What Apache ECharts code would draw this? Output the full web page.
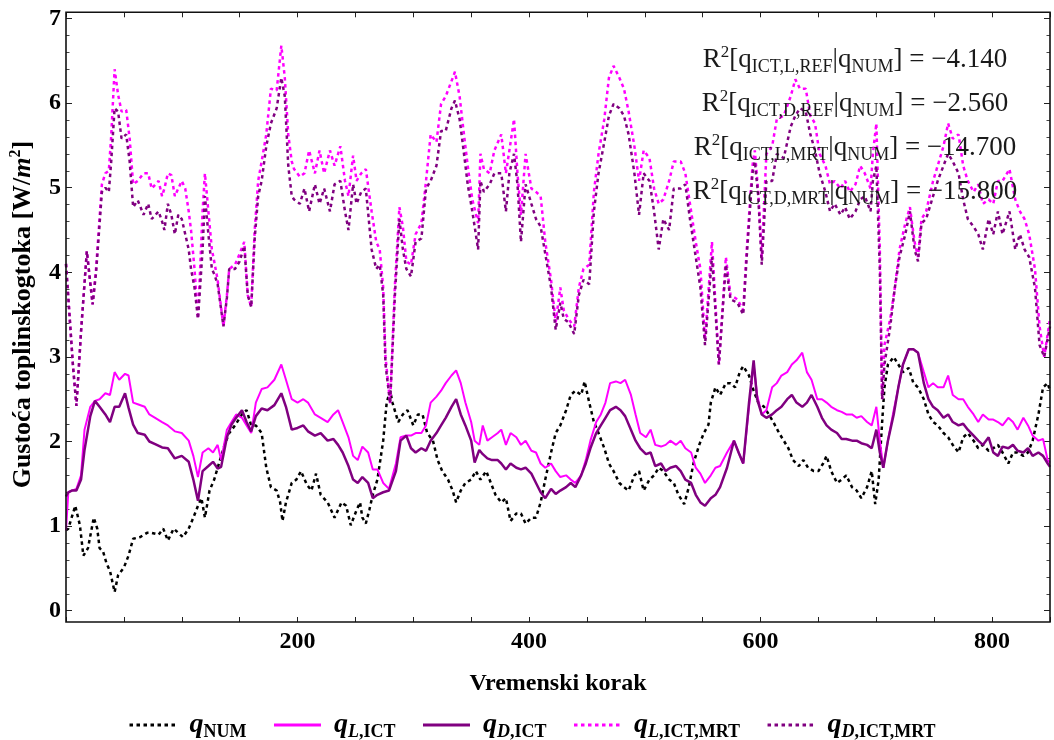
<!DOCTYPE html>
<html><head><meta charset="utf-8">
<script src="https://cdn.jsdelivr.net/npm/echarts@6/dist/echarts.min.js"></script>
<style>html,body{margin:0;padding:0;background:#fff}#c{width:1054px;height:740px}</style>
</head><body><div id="c"></div>
<script>
const xTickLabels = [200, 400, 600, 800];
const yTickLabels = [0, 1, 2, 3, 4, 5, 6, 7];
const seriesNames = ['qNUM', 'qLICT', 'qDICT', 'qLMRT', 'qDMRT'];
const legendRich = {
  qNUM: '{q|q}{s|NUM}',
  qLICT: '{q|q}{si|L}{s|,ICT}',
  qDICT: '{q|q}{si|D}{s|,ICT}',
  qLMRT: '{q|q}{si|L}{s|,ICT,MRT}',
  qDMRT: '{q|q}{si|D}{s|,ICT,MRT}'
};
const r2Subs = ['ICT,L,REF', 'ICT,D,REF', 'ICT,L,MRT', 'ICT,D,MRT'];
const r2Values = ['\u22124.140', '\u22122.560', '\u221214.700', '\u221215.800'];

const qNUM = [[0,0.95],[2,0.97],[8,1.24],[12,1.01],[15,0.65],[19,0.74],[24,1.1],[27,0.97],[29,0.74],[32,0.7],[35,0.56],[38,0.47],[42,0.22],[45,0.42],[50,0.51],[54,0.65],[58,0.85],[64,0.87],[70,0.92],[74,0.92],[80,0.9],[84,0.97],[88,0.83],[93,0.97],[97,0.92],[101,0.87],[106,0.97],[110,1.1],[114,1.24],[117,1.33],[120,1.1],[124,1.42],[128,1.55],[133,1.78],[137,1.96],[141,2.1],[146,2.19],[152,2.32],[156,2.37],[160,2.19],[164,2.19],[169,2.1],[173,1.69],[177,1.46],[182,1.42],[185,1.28],[187,1.06],[190,1.28],[195,1.51],[199,1.55],[203,1.65],[208,1.49],[212,1.42],[216,1.62],[220,1.37],[226,1.28],[232,1.1],[238,1.28],[242,1.24],[246,1.01],[251,1.19],[254,1.28],[256,1.1],[259,1.03],[262,1.19],[265,1.37],[269,1.55],[274,2.01],[277,2.46],[280,2.6],[282,2.46],[287,2.23],[291,2.32],[295,2.37],[300,2.19],[304,2.32],[308,2.32],[312,2.1],[317,2.01],[321,1.78],[325,1.65],[330,1.55],[334,1.42],[337,1.28],[341,1.42],[345,1.51],[350,1.55],[354,1.65],[358,1.55],[363,1.65],[367,1.51],[371,1.37],[376,1.28],[380,1.33],[384,1.06],[389,1.15],[393,1.15],[397,1.03],[402,1.1],[406,1.1],[410,1.28],[414,1.55],[419,1.87],[423,2.1],[427,2.19],[432,2.37],[436,2.55],[440,2.6],[445,2.55],[448,2.71],[452,2.46],[456,2.23],[460,2.1],[465,1.92],[469,1.74],[473,1.65],[478,1.51],[482,1.46],[486,1.42],[491,1.6],[495,1.65],[499,1.42],[504,1.55],[508,1.6],[512,1.69],[516,1.65],[521,1.55],[525,1.51],[529,1.37],[534,1.26],[538,1.46],[542,1.74],[547,1.96],[551,2.1],[555,2.2],[557,2.46],[561,2.64],[565,2.55],[570,2.69],[574,2.69],[578,2.64],[582,2.82],[585,2.89],[590,2.78],[594,2.6],[598,2.46],[603,2.41],[607,2.32],[611,2.23],[616,2.1],[620,2.01],[624,1.92],[628,1.78],[633,1.71],[637,1.78],[641,1.69],[646,1.65],[650,1.65],[654,1.74],[657,1.83],[661,1.65],[666,1.51],[670,1.55],[674,1.6],[679,1.46],[683,1.42],[687,1.33],[692,1.46],[696,1.65],[699,1.26],[702,1.55],[705,2.23],[707,2.64],[710,2.91],[715,3.0],[719,2.91],[723,2.82],[728,2.87],[732,2.69],[736,2.64],[741,2.5],[745,2.32],[749,2.23],[753,2.19],[758,2.1],[762,2.05],[766,1.96],[771,1.87],[775,2.05],[779,2.1],[784,2.01],[788,1.92],[792,1.96],[797,1.89],[801,1.92],[805,1.96],[809,1.87],[814,1.74],[818,1.87],[822,1.87],[827,1.83],[831,1.87],[835,2.01],[840,2.32],[844,2.64],[848,2.69],[850,2.6]];

const qLICT = [[0,0.95],[2,1.4],[5,1.42],[9,1.44],[13,1.6],[16,2.14],[21,2.41],[25,2.48],[29,2.5],[34,2.57],[38,2.55],[42,2.82],[46,2.73],[51,2.8],[54,2.78],[58,2.46],[62,2.44],[68,2.41],[72,2.32],[77,2.28],[83,2.23],[88,2.19],[94,2.12],[100,2.1],[106,2.01],[110,1.83],[114,1.58],[118,1.87],[123,1.92],[127,1.87],[131,1.96],[134,1.78],[139,2.14],[143,2.23],[147,2.32],[152,2.28],[156,2.19],[160,2.1],[164,2.46],[169,2.62],[174,2.64],[180,2.73],[186,2.91],[190,2.73],[195,2.5],[200,2.46],[205,2.5],[209,2.46],[215,2.32],[220,2.28],[226,2.23],[231,2.32],[235,2.37],[239,2.23],[244,2.05],[248,1.83],[252,1.78],[256,1.94],[261,1.87],[265,1.67],[269,1.67],[274,1.51],[279,1.44],[285,1.74],[289,2.05],[294,2.07],[298,2.07],[302,2.1],[307,2.1],[311,2.19],[315,2.46],[320,2.53],[324,2.6],[328,2.69],[333,2.78],[337,2.84],[341,2.69],[345,2.46],[350,2.23],[353,2.01],[357,1.96],[360,2.19],[364,2.01],[368,2.05],[373,2.1],[376,2.14],[380,1.96],[384,2.1],[389,2.05],[393,1.96],[397,2.01],[402,1.89],[406,1.87],[410,1.74],[414,1.69],[419,1.74],[423,1.65],[427,1.58],[432,1.6],[436,1.55],[440,1.51],[445,1.6],[449,1.78],[453,2.01],[458,2.23],[462,2.32],[466,2.46],[470,2.69],[475,2.71],[479,2.69],[483,2.73],[488,2.55],[492,2.32],[496,2.1],[501,2.05],[505,2.14],[509,1.96],[514,1.94],[518,1.96],[522,2.01],[527,1.96],[531,2.01],[535,1.92],[540,1.87],[544,1.69],[548,1.62],[552,1.51],[557,1.6],[561,1.69],[565,1.71],[571,1.87],[577,2.01],[581,1.87],[585,1.74],[590,2.41],[594,2.91],[597,2.55],[601,2.32],[605,2.37],[610,2.64],[614,2.69],[618,2.78],[623,2.82],[627,2.91],[631,2.96],[636,3.05],[640,2.82],[644,2.73],[649,2.5],[653,2.5],[657,2.46],[661,2.41],[666,2.37],[670,2.35],[674,2.32],[679,2.32],[683,2.28],[687,2.3],[692,2.23],[696,2.19],[700,2.41],[703,2.01],[706,1.69],[710,2.01],[715,2.37],[719,2.64],[723,2.91],[728,3.09],[732,3.09],[736,3.05],[741,2.82],[745,2.64],[749,2.69],[753,2.64],[758,2.64],[762,2.78],[766,2.55],[771,2.5],[775,2.5],[779,2.41],[784,2.32],[788,2.23],[792,2.32],[797,2.26],[801,2.26],[805,2.23],[809,2.19],[814,2.28],[818,2.23],[822,2.14],[827,2.28],[831,2.19],[835,2.07],[840,2.01],[844,2.03],[848,1.78],[850,1.75]];

const qDICT = [[0,1.35],[2,1.4],[5,1.42],[9,1.42],[13,1.55],[16,1.9],[21,2.3],[25,2.48],[29,2.41],[34,2.32],[38,2.23],[42,2.41],[46,2.41],[51,2.57],[54,2.4],[58,2.2],[62,2.1],[68,2.08],[72,2.0],[77,1.97],[83,1.93],[88,1.92],[94,1.8],[100,1.83],[106,1.76],[110,1.55],[114,1.3],[118,1.65],[123,1.71],[127,1.76],[131,1.68],[134,1.7],[139,2.05],[143,2.2],[147,2.28],[152,2.37],[156,2.23],[160,2.12],[164,2.3],[169,2.39],[174,2.37],[180,2.43],[186,2.57],[190,2.41],[195,2.14],[200,2.16],[205,2.19],[209,2.12],[215,2.07],[220,2.1],[226,2.01],[231,2.03],[235,1.96],[239,1.87],[244,1.71],[248,1.55],[252,1.51],[256,1.58],[261,1.51],[265,1.33],[269,1.37],[274,1.4],[279,1.42],[285,1.65],[289,2.01],[294,2.07],[298,1.92],[302,1.87],[307,1.92],[311,1.89],[315,2.01],[320,2.1],[324,2.19],[328,2.28],[333,2.41],[337,2.5],[341,2.32],[345,2.19],[350,2.01],[353,1.75],[357,1.9],[360,1.85],[364,1.8],[368,1.78],[373,1.78],[376,1.74],[380,1.67],[384,1.74],[389,1.69],[393,1.67],[397,1.69],[402,1.62],[406,1.51],[410,1.4],[414,1.33],[419,1.44],[423,1.38],[427,1.42],[432,1.46],[436,1.51],[440,1.46],[445,1.6],[449,1.74],[453,1.92],[458,2.1],[462,2.19],[466,2.28],[470,2.37],[475,2.41],[479,2.37],[483,2.3],[488,2.14],[492,2.01],[496,1.92],[501,1.85],[505,1.87],[509,1.71],[514,1.74],[518,1.65],[522,1.69],[527,1.71],[531,1.65],[535,1.55],[540,1.51],[544,1.37],[548,1.28],[552,1.24],[557,1.33],[561,1.37],[565,1.46],[571,1.69],[577,2.01],[581,1.87],[585,1.74],[590,2.46],[594,2.96],[597,2.5],[601,2.32],[605,2.28],[610,2.32],[614,2.37],[618,2.41],[623,2.5],[627,2.55],[631,2.46],[636,2.41],[640,2.46],[644,2.55],[649,2.41],[653,2.28],[657,2.19],[661,2.14],[666,2.1],[670,2.03],[674,2.03],[679,2.01],[683,2.01],[687,1.98],[692,1.96],[696,1.92],[700,2.14],[703,1.87],[706,1.69],[710,2.01],[715,2.32],[719,2.64],[723,2.91],[728,3.09],[732,3.09],[736,3.05],[741,2.69],[745,2.5],[749,2.41],[753,2.37],[758,2.28],[762,2.32],[766,2.23],[771,2.19],[775,2.21],[779,2.14],[784,2.07],[788,2.01],[792,1.96],[797,2.05],[801,1.87],[805,1.83],[809,1.94],[814,1.92],[818,1.96],[822,1.89],[827,1.87],[831,1.92],[835,1.83],[840,1.87],[844,1.83],[848,1.74],[850,1.7]];

const qLMRT = [[0,4.1],[2,3.7],[6,2.9],[9,2.42],[13,3.3],[18,4.25],[23,3.62],[26,4.05],[31,5.04],[34,5.17],[37,5.2],[39,5.6],[42,6.4],[45,6.1],[48,5.9],[52,5.92],[55,5.58],[58,5.04],[62,5.08],[67,5.17],[71,5.17],[74,4.99],[80,5.08],[83,4.9],[85,4.99],[88,5.17],[91,5.15],[94,4.9],[97,4.99],[100,5.08],[103,4.99],[106,4.72],[108,4.5],[111,4.04],[114,3.45],[118,4.72],[120,5.17],[123,4.72],[126,4.27],[128,4.13],[131,3.91],[136,3.36],[139,3.73],[141,4.04],[146,4.09],[150,4.22],[154,4.36],[157,3.73],[160,3.59],[163,4.5],[166,5.08],[169,5.31],[173,5.63],[177,6.17],[182,6.15],[186,6.68],[189,6.3],[192,5.63],[195,5.31],[197,5.22],[202,5.13],[206,5.17],[210,5.44],[215,5.17],[219,5.44],[223,5.17],[228,5.44],[232,5.26],[237,5.49],[241,5.08],[244,4.9],[248,5.38],[251,5.08],[255,5.17],[259,5.22],[264,4.72],[268,4.36],[271,4.27],[274,3.82],[276,3.0],[280,2.45],[284,3.82],[288,4.77],[291,4.54],[294,4.13],[298,4.09],[302,4.45],[307,4.58],[311,5.08],[315,5.63],[320,5.54],[324,5.99],[328,6.08],[333,6.26],[336,6.37],[340,6.08],[343,5.72],[347,5.26],[351,4.86],[356,4.58],[358,5.4],[361,5.22],[366,5.17],[370,5.44],[376,5.63],[380,5.17],[383,5.44],[387,5.81],[390,5.17],[393,4.68],[397,5.4],[402,4.99],[406,4.95],[410,4.9],[414,4.36],[419,3.91],[423,3.41],[427,3.82],[430,3.55],[434,3.45],[439,3.36],[443,3.82],[447,4.04],[452,4.09],[456,4.95],[460,5.4],[465,5.81],[469,6.3],[473,6.44],[478,6.3],[482,6.17],[486,5.9],[491,5.49],[495,5.08],[499,5.44],[504,5.35],[508,4.99],[512,4.81],[516,4.86],[521,5.08],[525,5.31],[531,5.31],[535,5.17],[539,4.81],[544,4.36],[548,4.04],[552,3.2],[558,4.36],[564,2.91],[570,4.18],[574,3.73],[580,3.68],[585,3.55],[588,4.27],[593,5.26],[595,5.44],[598,4.95],[601,4.18],[605,5.4],[610,5.49],[614,5.81],[620,5.85],[626,6.08],[630,6.28],[634,6.17],[639,6.17],[643,5.85],[647,5.76],[651,5.4],[656,5.26],[660,5.04],[664,5.08],[669,4.99],[673,5.08],[677,4.95],[682,5.04],[686,5.26],[690,5.17],[695,4.99],[697,5.4],[700,5.76],[703,4.27],[705,2.5],[707,3.14],[712,3.45],[716,3.82],[720,4.27],[725,4.58],[729,4.77],[733,4.36],[736,4.18],[739,4.63],[743,4.72],[749,5.08],[753,5.26],[758,5.49],[762,5.76],[766,5.58],[771,5.63],[775,5.26],[779,5.08],[784,4.95],[788,5.04],[792,4.81],[797,4.86],[801,4.81],[805,5.08],[809,5.08],[815,5.22],[820,4.86],[824,4.72],[828,4.63],[832,4.45],[837,4.04],[841,3.36],[845,3.0],[850,3.45]];

const qDMRT = [[0,4.1],[2,3.7],[6,2.9],[9,2.42],[13,3.3],[18,4.25],[23,3.62],[26,4.0],[31,4.95],[34,5.0],[37,4.95],[39,5.3],[42,5.94],[45,5.9],[48,5.58],[52,5.63],[55,5.31],[58,4.77],[62,4.85],[67,4.68],[71,4.81],[74,4.63],[80,4.72],[83,4.6],[85,4.5],[88,4.81],[91,4.68],[94,4.45],[97,4.68],[100,4.63],[103,4.45],[106,4.27],[108,4.04],[111,3.82],[114,3.45],[118,4.27],[120,4.9],[123,4.45],[126,4.04],[128,3.98],[131,3.86],[136,3.36],[139,3.7],[141,4.04],[146,4.04],[150,4.13],[154,4.31],[157,3.73],[160,3.59],[163,4.4],[166,4.9],[169,5.08],[173,5.49],[177,5.76],[182,5.94],[186,6.3],[189,6.08],[192,5.26],[195,4.9],[197,4.86],[202,4.81],[206,4.99],[210,4.72],[215,5.04],[219,4.81],[223,4.99],[228,4.72],[232,5.04],[237,5.08],[241,4.72],[244,4.5],[248,5.04],[251,4.81],[255,4.95],[259,4.99],[264,4.27],[268,4.04],[271,4.09],[274,3.73],[276,2.91],[280,2.45],[284,3.7],[288,4.63],[291,4.27],[294,4.04],[298,3.95],[302,4.36],[307,4.4],[311,4.99],[315,5.08],[320,5.26],[324,5.67],[328,5.67],[333,5.94],[336,6.03],[340,5.81],[343,5.49],[347,5.04],[351,4.72],[356,4.27],[358,5.08],[361,4.95],[366,5.04],[370,5.17],[376,5.17],[380,4.72],[383,5.17],[387,5.4],[390,5.04],[393,4.36],[397,5.04],[402,4.81],[406,4.63],[410,4.54],[414,4.22],[419,3.82],[423,3.32],[427,3.64],[430,3.45],[434,3.41],[439,3.27],[443,3.73],[447,3.91],[452,3.86],[456,4.72],[460,5.17],[465,5.54],[469,5.85],[473,5.99],[478,5.94],[482,5.85],[486,5.63],[491,5.17],[495,4.68],[499,5.17],[504,5.08],[508,4.72],[512,4.27],[516,4.63],[521,4.5],[525,4.99],[531,4.99],[535,5.04],[539,4.63],[544,4.18],[548,3.82],[552,3.14],[558,4.18],[564,2.91],[570,4.09],[574,3.68],[580,3.64],[585,3.5],[588,4.18],[593,5.17],[595,5.31],[598,4.9],[601,4.09],[605,5.08],[610,5.08],[614,5.4],[620,5.35],[626,5.72],[630,5.85],[634,5.94],[639,5.9],[643,5.63],[647,5.44],[651,5.17],[656,4.95],[660,4.72],[664,4.81],[669,4.68],[673,4.77],[677,4.63],[682,4.72],[686,4.86],[690,4.9],[695,4.72],[697,5.08],[700,5.26],[703,4.04],[705,2.5],[707,2.91],[712,3.36],[716,3.82],[720,4.18],[725,4.45],[729,4.72],[733,4.27],[736,4.13],[739,4.58],[743,4.63],[749,4.9],[753,5.08],[758,5.26],[762,5.4],[766,5.31],[771,5.17],[775,4.86],[779,4.63],[784,4.54],[788,4.45],[792,4.27],[797,4.63],[801,4.45],[805,4.72],[809,4.45],[815,4.72],[820,4.27],[824,4.45],[828,4.27],[832,4.18],[837,3.82],[841,3.14],[845,3.0],[850,3.36]];

const F = '"Liberation Serif","Times New Roman",serif';
const MAGENTA = '#ff00ff', PURPLE = '#800080', BLACK = '#000000';

const chart = echarts.init(document.getElementById('c'), null, {renderer: 'canvas'});

const tickLen = 6, minorLen = 3.5;
function yAxisCfg(pos, showLabels) {
  return {
    type: 'value', position: pos, min: yTickLabels[0], max: yTickLabels[yTickLabels.length - 1], interval: 1,
    axisLine: {show: false, onZero: false},
    axisTick: {show: true, inside: true, length: tickLen, lineStyle: {color: '#222', width: 1}},
    minorTick: {show: true, splitNumber: 5, length: minorLen, lineStyle: {color: '#444', width: 1}},
    splitLine: {show: false}, minorSplitLine: {show: false},
    axisLabel: showLabels ? {show: true, margin: 5, color: '#000', fontFamily: F, fontWeight: 'bold', fontSize: 24,
      formatter: v => yTickLabels.includes(v) ? String(v) : ''} : {show: false},
    name: showLabels ? '{b|Gusto\u0107a toplinskogtoka [W/}{i|m}{sup|2}{b|]}' : '',
    nameLocation: 'middle', nameGap: 28, nameRotate: 90,
    nameTextStyle: {rich: {
      b: {fontFamily: F, fontWeight: 'bold', fontSize: 26, color: '#000', lineHeight: 30},
      i: {fontFamily: F, fontWeight: 'bold', fontStyle: 'italic', fontSize: 26, color: '#000', lineHeight: 30},
      sup: {fontFamily: F, fontWeight: 'bold', fontSize: 16, color: '#000', verticalAlign: 'top', lineHeight: 20}
    }}
  };
}
function xAxisCfg(pos, showLabels, off) {
  return {
    type: 'value', position: pos, min: 0, max: 850, interval: 50, offset: off,
    axisLine: {show: false, onZero: false},
    axisTick: {show: true, inside: true, length: 5, lineStyle: {color: '#222', width: 1}},
    splitLine: {show: false},
    axisLabel: showLabels ? {show: true, margin: 8, color: '#000', fontFamily: F, fontWeight: 'bold', fontSize: 24,
      formatter: v => xTickLabels.includes(v) ? String(v) : ''} : {show: false},
    name: showLabels ? 'Vremenski korak' : '',
    nameLocation: 'middle', nameGap: 50,
    nameTextStyle: {fontFamily: F, fontWeight: 'bold', fontSize: 24, color: '#000'}
  };
}

const seriesData = [qNUM, qLICT, qDICT, qLMRT, qDMRT];
const seriesColors = [BLACK, MAGENTA, PURPLE, MAGENTA, PURPLE];
const seriesWidths = [2.5, 2, 2.5, 2.5, 2.5];
const seriesDash = [[3.5, 3.5], 'solid', 'solid', [3.5, 3.5], [3.5, 3.5]];

const series = seriesNames.map((n, i) => ({
  name: n, type: 'line', data: seriesData[i], showSymbol: false, symbol: 'none',
  smooth: false, animation: false, z: 2 + i,
  lineStyle: {color: seriesColors[i], width: seriesWidths[i], type: seriesDash[i]},
  itemStyle: {color: seriesColors[i]}
}));

const r2Graphics = r2Subs.map((s, i) => ({
  type: 'text', x: 855, y: 60 + i * 44, z: 100,
  style: {
    text: '{n|R}{sup|2}{n|[q}{sub|' + s + '}{n||q}{sub|NUM}{n|] = ' + r2Values[i] + '}',
    align: 'center', verticalAlign: 'middle',
    rich: {
      n: {fontFamily: F, fontSize: 27, fill: '#1a1a1a', lineHeight: 32},
      sup: {fontFamily: F, fontSize: 17, fill: '#1a1a1a', verticalAlign: 'top', lineHeight: 23},
      sub: {fontFamily: F, fontSize: 18, fill: '#1a1a1a', verticalAlign: 'bottom', lineHeight: 18}
    }
  }
}));

chart.setOption({
  animation: false,
  backgroundColor: '#fff',
  grid: {left: 66, right: 4, top: 18.5, bottom: 129.3, containLabel: false, outerBoundsMode: 'none'},
  xAxis: [xAxisCfg('bottom', true, 11.3), xAxisCfg('top', false, 6.2)],
  yAxis: [yAxisCfg('left', true), yAxisCfg('right', false)],
  legend: {
    data: seriesNames, left: 123, top: 706, itemWidth: 47, itemHeight: 14, itemGap: 26,
    itemStyle: {opacity: 0, borderWidth: 0},
    lineStyle: {width: 3},
    formatter: n => legendRich[n],
    textStyle: {rich: {
      q: {fontFamily: F, fontSize: 28, fontStyle: 'italic', fontWeight: 'bold', color: '#000', lineHeight: 32, padding: [0, 0, 0, 8]},
      s: {fontFamily: F, fontSize: 18, fontWeight: 'bold', color: '#000', verticalAlign: 'bottom', lineHeight: 19},
      si: {fontFamily: F, fontSize: 18, fontWeight: 'bold', fontStyle: 'italic', color: '#000', verticalAlign: 'bottom', lineHeight: 19}
    }}
  },
  series: series,
  graphic: [
    {type: 'rect', z: 50, silent: true, shape: {x: 66, y: 12.3, width: 984, height: 609.7},
     style: {fill: 'none', stroke: '#111', lineWidth: 1.6}}
  ].concat(r2Graphics)
});
</script>
</body></html>
